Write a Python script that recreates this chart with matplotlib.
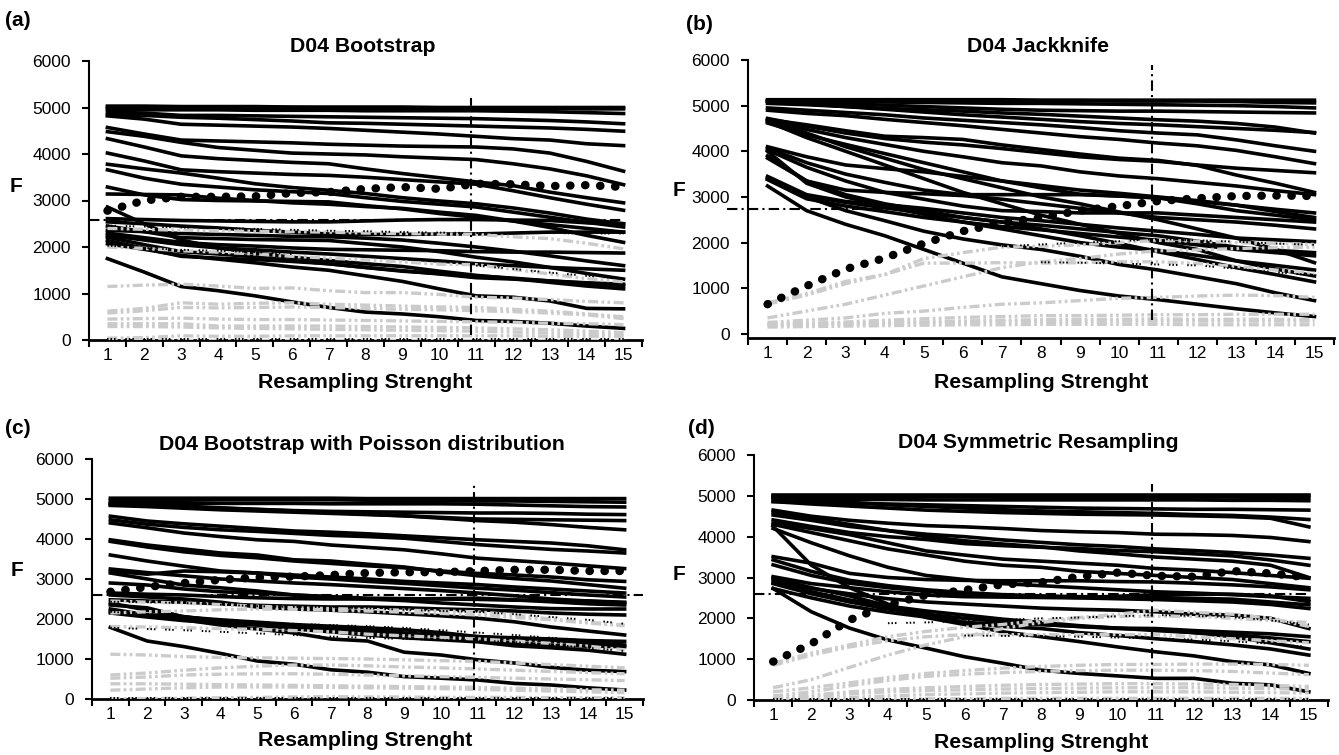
import numpy as np
import matplotlib
matplotlib.use('Agg')
import matplotlib.pyplot as plt

plt.rcParams['font.family'] = ['Liberation Sans', 'DejaVu Sans']

# 横轴：重采样强度 1..15
x = np.arange(1, 16)
x_labels = [str(i) for i in x]
y_ticks = [0, 1000, 2000, 3000, 4000, 5000, 6000]
nan = np.nan

titles = ['D04 Bootstrap', 'D04 Jackknife',
          'D04 Bootstrap with Poisson distribution', 'D04 Symmetric Resampling']
letters = ['(a)', '(b)', '(c)', '(d)']

# 数据单位：百 (F / 100)
# (a) Bootstrap
a_black = [
    [50.3, 50.3, 50.2, 50.2, 50.2, 50.1, 50.1, 50.1, 50.1, 50, 50, 50, 50, 50, 50],
    [50, 50, 50, 50, 50, 50, 49.9, 49.9, 49.9, 49.8, 49.8, 49.8, 49.8, 49.7, 49.7],
    [49.6, 49.5, 49.5, 49.5, 49.4, 49.4, 49.4, 49.3, 49.3, 49.3, 49.3, 49.2, 49.1, 48.9, 48.7],
    [49, 48.8, 48.3, 48.3, 48.2, 48.1, 48, 47.9, 47.8, 47.7, 47.6, 47.4, 47.2, 46.9, 46.5],
    [48.4, 48.3, 47.9, 47.7, 47.4, 47.1, 46.7, 46.6, 46.4, 46.2, 46, 45.8, 45.6, 45.3, 44.9],
    [48.2, 47.5, 46.4, 46.2, 46.0, 45.8, 45.5, 45.1, 44.7, 44.3, 43.8, 43.3, 43, 42.2, 41.8],
    [45.7, 44.3, 43, 42.8, 42.6, 42.4, 42.1, 41.9, 41.7, 41.6, 41.5, 41.1, 40.2, 38.4, 36.3],
    [44.8, 43.8, 42.5, 41.4, 40.8, 40.2, 40, 39.8, 39.4, 39.1, 38.8, 37.9, 36.8, 35.3, 33.4],
    [43.3, 41.5, 39.6, 39, 38.6, 38.2, 37.9, 36.8, 35.8, 34.9, 34, 33.2, 31.8, 30.6, 29.5],
    [40.2, 38.5, 36.6, 36.2, 35.9, 35.6, 35.4, 35, 34.5, 34, 33.5, 32.1, 30.6, 29.2, 27.9],
    [37.8, 36.8, 35.9, 34.8, 33.6, 32.8, 32.2, 31.5, 30.6, 29.9, 29.3, 28.4, 27.3, 26, 25],
    [36.6, 34.8, 33.5, 32.9, 32.3, 31.9, 31.5, 30.6, 29.8, 29.2, 28.6, 27.5, 26.4, 25.3, 24.3],
    [32.9, 31.2, 30.2, 30, 29.9, 29.8, 29.7, 28.9, 28.2, 27.2, 26.4, 25.6, 24.8, 24, 23.2],
    [31.4, 31.3, 31.2, 30.5, 30, 29.5, 29.2, 28.7, 28.3, 27.5, 26.8, 25.6, 24.2, 22.5, 21.0],
    [28.6, 25, 21.5, 19.8, 18.7, 17.8, 17.1, 16.4, 15.8, 14.8, 13.9, 13.2, 12.4, 11.6, 11.0],
    [26.1, 25.9, 25.7, 25.6, 25.5, 25.4, 25.4, 25.6, 25.8, 25.9, 25.9, 25.8, 25.7, 25.2, 25.0],
    [25.4, 25.0, 24.5, 24.1, 23.6, 23.2, 22.8, 22.7, 22.7, 22.8, 22.8, 23, 23.2, 23.2, 23.2],
    [23.6, 23.3, 22.9, 22.7, 22.5, 22.3, 22.2, 21.9, 21.5, 20.8, 20.0, 19.1, 18.1, 17.0, 16.0],
    [22.1, 20.5, 19.0, 18.5, 17.9, 17.1, 16.4, 15.6, 14.9, 14.2, 13.4, 13.1, 12.7, 12.3, 12.0],
    [21.4, 19.7, 18.0, 17.6, 17.3, 16.9, 16.4, 15.6, 14.8, 14.3, 13.8, 13.3, 12.7, 12.2, 11.7],
    [20.7, 19.5, 18.2, 17.4, 16.6, 15.7, 15.0, 13.8, 12.6, 11, 9.5, 9.2, 8.4, 6.8, 6.7],
    [17.5, 14.6, 11.5, 10.6, 9.5, 8.2, 7.0, 6.0, 5.6, 5.0, 4.2, 4.0, 3.6, 3.0, 2.5],
    [24.5, 23.3, 22.0, 21.8, 21.6, 21.5, 21.4, 20.7, 20, 19, 17.8, 16.8, 15.6, 14.3, 13.1],
    [23.0, 22.0, 21.0, 20.5, 20.2, 19.8, 19.5, 19.4, 19.3, 19.2, 19, 18.9, 18.9, 18.8, 18.7],
    [22.5, 21.5, 20.5, 19.8, 19.4, 18.9, 18.5, 18, 17.5, 17.0, 16.4, 16, 15.6, 15.3, 15.0],
]
a_gray = [
    [24, 23.8, 23.6, 23.5, 23.4, 23.3, 23.2, 23, 22.9, 22.8, 22.7, 22.2, 21.8, 20.8, 19.6],
    [20, 19.7, 19.2, 18.9, 18.5, 18, 17.6, 17.2, 16.8, 16.3, 16.2, 15.2, 14.2, 13.2, 12.5],
    [11.5, 11.8, 12, 11.6, 11.1, 11.2, 10.6, 10.2, 10.2, 9.8, 9.2, 9, 8.7, 8.3, 8],
    [6.2, 6.8, 8, 7.7, 7.9, 8, 7.7, 7.5, 7.3, 7.1, 7, 6.6, 6.2, 5.6, 5],
    [5.8, 6.3, 7, 6.9, 7, 7.1, 7, 6.8, 6.6, 6.5, 6.3, 6.1, 5.8, 5.4, 4.6],
    [3.5, 3.5, 3.5, 3, 3, 3, 3, 2.9, 2.8, 2.7, 2.6, 2.4, 2.2, 1.9, 1.6],
    [2.9, 2.9, 2.8, 2.6, 2.5, 2.4, 2.3, 2.2, 2.1, 2.0, 1.9, 1.7, 1.5, 1.3, 1.1],
    [0.4, 0.5, 0.9, 0.8, 0.8, 0.9, 0.9, 0.9, 0.9, 0.9, 0.9, 0.9, 0.8, 0.8, 0.8],
    [0.1, 0.1, 0.1, 0.1, 0.1, 0.1, 0.1, 0.1, 0.1, 0.1, 0.1, 0.1, 0.1, 0.1, 0.1],
    [4.5, 4.6, 4.7, 4.5, 4.4, 4.4, 4.3, 4.2, 4.1, 4, 3.9, 3.8, 3.6, 3.5, 3.3],
]
a_dashed = [
    [24.6, 24.4, 24.2, 24.1, 23.9, 23.7, 23.5, 23.4, 23.2, 23.1, 23.0, 23.0, 23.0, 22.9, 22.9],
    [20.3, 19.8, 19.4, 19.2, 18.9, 18.5, nan, nan, nan, nan, 16, 15.3, 14.5, 13.8, 13.2],
    [0.3, 0.3, 0.3, 0.3, 0.3, 0.3, 0.3, 0.3, 0.3, 0.3, 0.3, 0.3, 0.3, 0.3, 0.3],
]
a_dots = [27.8, 30, 30.8, 30.8, 30.9, 31.6, 31.8, 32.5, 32.9, 32.5, 33.6, 33.5, 33.1, 33.3, 32.9]

# (b) Jackknife
b_black = [
    [51.3, 51.3, 51.3, 51.3, 51.3, 51.3, 51.3, 51.2, 51.2, 51.2, 51.2, 51.2, 51.2, 51.2, 51.2],
    [51, 51, 51, 51, 51.1, 51.1, 51.1, 51.1, 51.1, 51, 51, 51, 50.9, 50.7, 50.6],
    [51.1, 51, 50.9, 50.8, 50.7, 50.6, 50.5, 50.5, 50.4, 50.3, 50.2, 50.1, 50, 49.8, 49.5],
    [51, 50.7, 50.4, 50.1, 49.8, 49.5, 49.2, 49, 48.9, 48.8, 48.8, 48.7, 48.6, 48.5, 48.4],
    [50.5, 50.2, 49.8, 49.4, 49.1, 48.8, 48.4, 48.1, 47.7, 47.3, 46.9, 46.6, 46.1, 45.3, 44.0],
    [49.5, 49, 48.5, 48.0, 47.3, 46.8, 46.3, 45.8, 45.2, 44.5, 44.0, 43.6, 42.5, 41.2, 40.0],
    [49, 48.3, 47.8, 47, 46.3, 45.6, 44.8, 44.0, 43.2, 42.6, 41.8, 41.2, 40.2, 38.8, 37.3],
    [47.2, 45.5, 44, 42.8, 42, 41.4, 40.6, 39.7, 38.8, 38.2, 37.8, 37, 36.3, 35.8, 35.3],
    [47, 45.8, 44.5, 43.3, 43, 42.6, 41.4, 40.4, 39.4, 38.5, 38, 36.9, 34.8, 33, 31.0],
    [46.7, 44.8, 43, 41.5, 40, 38.8, 37.5, 36.8, 35.5, 34.6, 34, 33.2, 32.4, 31.4, 30.5],
    [46.2, 43.6, 41.5, 39.5, 37.5, 35.5, 33.5, 32, 30.6, 30.2, 29.8, 29, 28.2, 27.3, 26.5],
    [41, 38.8, 37, 36.2, 35.5, 34.5, 33.5, 32.5, 31.5, 30.8, 30, 29.2, 28.2, 26.8, 25.5],
    [40.7, 37.5, 35, 33.2, 31.5, 30.5, 30.5, 30.5, 30.5, 30.2, 29.8, 28.5, 27, 26, 25],
    [40.3, 36.5, 33.5, 31, 29.5, 28, 27, 26.8, 26.5, 26.5, 26.5, 26, 25.5, 25, 24.5],
    [38.5, 33.5, 31.5, 31, 30.7, 30.3, 29.5, 28.5, 27.5, 26.5, 25.5, 25, 24.5, 23.8, 23],
    [34.5, 30.5, 29, 28.3, 27.5, 26.5, 25.5, 24.8, 24, 23.2, 22.5, 21.8, 21, 20.6, 20.2],
    [34.2, 30.2, 28.8, 27.6, 26.5, 25.5, 24.5, 23.8, 23, 22.2, 21.5, 20.3, 19, 18.3, 17.8],
    [33.8, 29.6, 28, 26.8, 25.5, 24.5, 23.5, 22.8, 22, 21.2, 20.5, 19.5, 18.5, 17.8, 17.1],
    [32.4, 27, 24, 21.5, 18.5, 15.5, 12.5, 11, 9.5, 8.3, 7.5, 6.5, 5.5, 4.6, 3.8],
    [34, 30, 27, 24.8, 22.5, 20.8, 19.5, 18.5, 17, 15.2, 14, 12.5, 11, 9, 7.3],
    [40, 33, 30, 28, 26.2, 24.5, 23, 21.5, 20, 19, 18.3, 17.2, 16, 15, 14],
    [46.5, 43, 40, 37, 34, 31, 28.5, 26, 24, 22, 20, 18.5, 16, 14.2, 12.7],
    [39, 33.5, 30.5, 28.5, 27, 25.5, 24.5, 23, 21.5, 19.8, 18, 16.3, 14.5, 13, 11.4],
    [47, 44, 41, 38.5, 36, 34, 32, 30, 28.5, 26.7, 25, 23, 21, 18.5, 15.6],
    [50.9, 50.4, 49.8, 49.2, 48.6, 48, 47.5, 47, 46.5, 46.1, 45.8, 45.4, 45, 44.6, 44.1],
]
b_gray = [
    [6.5, 8.5, 11, 13, 16.5, 17.8, 19, 19.2, 19.5, 20, 20.5, 20.3, 20, 19.8, 19.6],
    [6.8, 8.8, 11.5, 13.0, 15.5, 15.5, 15.6, 15.5, 15.6, 15.8, 15.8, 15.4, 14.8, 14, 13.3],
    [3.5, 5, 6.5, 8.5, 10.5, 12.5, 14.5, 15.8, 16.5, 17.5, 18.2, 18.4, 18.7, 18.9, 19],
    [2.5, 3, 3.5, 4.5, 5, 5.8, 6.5, 6.8, 7.3, 7.8, 8, 8.3, 8.5, 8.4, 8],
    [2, 2.3, 2.6, 3, 3.3, 3.6, 3.8, 4, 4, 4.1, 4.2, 4.2, 4.3, 4.3, 4.3],
    [1.8, 2, 2.2, 2.4, 2.6, 2.8, 3, 3.1, 3.2, 3.2, 3.3, 3.2, 3.2, 3.2, 3.1],
    [1.5, 1.6, 1.7, 1.8, 1.9, 2, 2, 2.1, 2.1, 2.1, 2.1, 2, 2, 2, 2],
    [2.2, 2.2, 2.3, 2.4, 2.5, 2.6, 2.7, 2.7, 2.7, 2.8, 2.8, 2.8, 2.8, 2.8, 2.8],
]
b_dashed = [
    [nan, nan, nan, nan, nan, nan, 19.2, 19.6, 20, 20.3, 20.8, 20.5, 20.2, 19.8, 19.5],
    [nan, nan, nan, nan, nan, nan, nan, 15.7, 15.6, 15.4, 15.2, 15, 14.3, 13.5, 12.8],
]
b_dots = [6.5, 10.5, 14.2, 16.6, 19.8, 22.5, 24.3, 25.5, 27, 28, 29.1, 29.7, 30.2, 30.3, 30.2]

# (c) Bootstrap with Poisson distribution
c_black = [
    [50.2, 50.2, 50.2, 50.2, 50.2, 50.2, 50.2, 50.1, 50.1, 50.1, 50.1, 50.1, 50.1, 50.1, 50.1],
    [49.6, 49.6, 49.7, 49.8, 49.8, 49.8, 49.8, 49.7, 49.7, 49.6, 49.5, 49.5, 49.4, 49.3, 49.2],
    [49, 49, 48.9, 48.9, 48.9, 48.9, 48.8, 48.8, 48.8, 48.8, 48.7, 48.5, 48.3, 48.1, 48.0],
    [48.6, 48.3, 48, 47.7, 47.4, 47.1, 46.9, 46.8, 46.7, 46.6, 46.5, 46.5, 46.4, 46.2, 46.1],
    [48.4, 48.1, 47.7, 47.3, 47, 46.7, 46.4, 46.1, 45.8, 45.2, 44.6, 44.2, 43.6, 42.9, 42.3],
    [48.8, 48.5, 48.2, 47.8, 47.4, 47, 46.6, 46.2, 45.8, 45.4, 45, 44.9, 44.8, 44.7, 44.6],
    [45.7, 44.5, 43.8, 43.2, 42.6, 42, 41.7, 41.3, 40.8, 40.3, 39.8, 39.4, 39, 38.3, 37.3],
    [44.8, 43.7, 42.9, 42.3, 41.9, 41.4, 40.9, 40.6, 40.2, 39.4, 38.6, 38, 37.4, 37, 36.5],
    [44, 42.8, 41.5, 40.6, 39.8, 39.4, 38.5, 37.9, 37.3, 36.3, 35.2, 34.6, 34, 33.3, 32.6],
    [39.8, 38.5, 37.5, 36.5, 36, 34.8, 34.5, 33.7, 33, 31.8, 30.8, 30.1, 29.5, 28.6, 27.7],
    [39.4, 38, 36.8, 35.9, 35.3, 34.5, 33.9, 33.3, 32.8, 32, 31.4, 31, 30.5, 29.8, 29.4],
    [36, 34.5, 33.2, 32, 31.5, 30.5, 30, 29.4, 28.9, 28.3, 27.7, 27.2, 26.6, 26, 25.5],
    [32.5, 31.6, 30.8, 30, 29.5, 29, 28.6, 28.1, 27.6, 27.1, 26.5, 25.8, 25, 24.5, 24],
    [32, 31.2, 32, 31.8, 31.5, 31, 30.5, 30, 29.4, 29, 28.6, 28, 27.5, 27, 26.5],
    [26.5, 26.2, 26, 25.6, 25.3, 25.1, 25, 25, 25, 25.1, 25.2, 24.8, 24.3, 23.8, 23.5],
    [24.8, 24.5, 24.2, 23.8, 23.4, 23.2, 23, 23, 22.8, 22.5, 22.3, 22, 21.5, 21.2, 21.0],
    [23.5, 22.8, 20.5, 19.5, 19, 18.5, 17.6, 16.8, 16.2, 15.8, 15.6, 15.3, 15, 14.6, 14.4],
    [24, 22.2, 20.6, 19.5, 18.5, 18, 17.5, 17.5, 16.5, 15.8, 14.8, 14, 13.5, 13.2, 13.1],
    [21.9, 21.1, 20.5, 19.8, 19.2, 18.6, 18.2, 17.8, 17.3, 16.6, 15.6, 15, 14.5, 14, 13.5],
    [17.9, 14.5, 13.1, 11.4, 9.5, 8.7, 7.3, 6.7, 5.6, 5.2, 4.75, 3.9, 3.5, 2.8, 2.25],
    [22.5, 21, 19.8, 18.5, 17.5, 16.5, 15, 14.5, 11.7, 11, 9.8, 9, 7.9, 7.2, 6.85],
    [21.5, 20.5, 19.6, 19, 18.5, 17.5, 16.8, 16, 15.3, 14.8, 14.3, 13.3, 12.8, 12.2, 11.2],
    [26, 25.5, 25, 24.2, 23, 22.5, 22.2, 21.8, 21.3, 20.8, 20.2, 19.3, 18, 17, 16],
    [31.5, 30, 28.5, 27.8, 27, 26, 25.5, 25, 24.6, 24, 23.5, 23, 22.6, 22.5, 22.5],
    [29, 28.5, 27.5, 26.8, 26.5, 26, 25.6, 25.2, 25.1, 25, 24.9, 24.7, 24.6, 24.5, 24.2],
]
c_gray = [
    [24.5, 24.2, 24, 23.6, 23.2, 22.8, 22.6, 22.4, 22.2, 22, 21.8, 21, 20, 19.2, 18.5],
    [21.5, 21.8, 22, 22.3, 22.5, 22.4, 22.2, 22, 21.7, 21.4, 21, 20.4, 19.8, 19, 18.3],
    [18.1, 18, 17.8, 17.6, 17.4, 17.1, 16.8, 16.2, 15.8, 15.4, 15, 14.5, 13.9, 13.2, 12.3],
    [11.2, 11, 10.6, 10.4, 10.3, 10.2, 10.1, 10, 9.8, 9.6, 9.4, 9, 8.6, 8.2, 7.8],
    [6, 6.5, 7.2, 7.8, 8.2, 8.5, 8.5, 8.3, 8, 7.8, 7.5, 7.2, 6.9, 6.6, 6.3],
    [5.2, 5.5, 6, 6.2, 6.3, 6.3, 6.2, 6, 5.8, 5.6, 5.4, 5.2, 5, 4.8, 4.6],
    [3.8, 3.8, 3.7, 3.6, 3.5, 3.4, 3.3, 3.2, 3.1, 3, 2.9, 2.7, 2.5, 2.3, 2.2],
    [2.2, 2.5, 2.8, 3, 3, 3, 2.9, 2.8, 2.7, 2.6, 2.4, 2.2, 2, 1.8, 1.6],
    [0, 0.1, 0.2, 0.3, 0.4, 0.5, 0.6, 0.5, 0.5, 0.4, 0.4, 0.4, 0.3, 0.3, 0.3],
]
c_dashed = [
    [24.3, 24.2, 24, 23.6, 23.2, 23, 23, 22.7, 22.3, 22, 21.8, 21.2, 20.5, 19.8, 18.8],
    [21.8, 21.2, 20.5, 19.8, 19.2, 18.8, 18.5, 18.2, 17.8, 17.2, 16.6, 16, 15.3, 14.7, 14],
    [17.8, 17.5, 17.2, 16.8, 16.4, 16, 15.6, 15.3, 15, 14.8, 14.6, 14.2, 13.6, 12.8, 12],
    [0.2, 0.2, 0.2, 0.2, 0.2, 0.2, 0.2, 0.2, 0.2, 0.2, 0.2, 0.2, 0.2, 0.2, 0.2],
]
c_dots = [26.8, 28, 29, 29.8, 30.4, 30.6, 31, 31.5, 31.7, 31.7, 32, 32.3, 32.3, 32, 32]

# (d) Symmetric Resampling
d_black = [
    [50.2, 50.2, 50.2, 50.2, 50.2, 50.2, 50.2, 50.2, 50.2, 50.2, 50.2, 50.2, 50.2, 50.2, 50.2],
    [49.8, 49.8, 49.8, 49.8, 49.8, 49.8, 49.7, 49.7, 49.7, 49.7, 49.7, 49.7, 49.7, 49.6, 49.6],
    [49.4, 49.2, 49.1, 49.1, 49, 49, 49, 49, 49, 49, 49, 49, 48.9, 48.9, 48.8],
    [48.6, 48.4, 48.2, 48, 47.8, 47.6, 47.4, 47.2, 47, 46.9, 46.8, 46.7, 46.7, 46.6, 46.5],
    [48.6, 48, 47.5, 47, 46.5, 46.2, 45.9, 45.7, 45.5, 45.4, 45.3, 45.1, 44.9, 44.5, 42.4],
    [46.5, 45, 44, 43.3, 42.7, 42.4, 42, 41.5, 41.2, 41, 40.6, 40.5, 40.3, 39.8, 38.8],
    [45.3, 44, 42.5, 41.5, 40.6, 40, 39.2, 38.6, 38, 37.6, 37, 36.6, 36.1, 35.5, 34.7],
    [44.1, 42.5, 41, 40, 39.3, 38.3, 37.8, 37.4, 37.1, 36.6, 36.3, 35.8, 35.3, 34.3, 33],
    [43.3, 42, 40.5, 38.5, 36.5, 35.5, 34.5, 34, 33.5, 33, 32.2, 31.8, 31.2, 30.5, 29.8],
    [42, 38.5, 35.3, 32.5, 30.5, 29.5, 28.5, 28, 27.5, 27, 26.5, 26.2, 25.8, 25.3, 24.9],
    [35.1, 33.5, 31, 30, 29.5, 29.3, 29.2, 29.2, 29.2, 29, 28.9, 28.6, 28.2, 27.7, 27],
    [34.3, 31.5, 29.3, 28, 27, 26.3, 25.8, 25.5, 25.3, 25.2, 25.1, 24.9, 24.7, 24, 23.3],
    [33.1, 30.5, 28.6, 27.5, 26.6, 26, 25.5, 25.3, 25.1, 25.4, 25.8, 25.9, 25.9, 25.5, 24.1],
    [30.2, 28.5, 27.5, 26.5, 25.7, 25.3, 25.2, 25.1, 25, 24.8, 24.6, 24.3, 24, 23.4, 22.4],
    [29.4, 27.3, 26, 24.8, 24, 23.5, 23, 22.5, 22.2, 22, 21.6, 21, 20.8, 20, 17.5],
    [27.3, 25, 23, 21.5, 20.3, 19, 18.5, 18.5, 18, 17.6, 17.5, 17, 16.6, 16.2, 15.5],
    [29.9, 27.5, 25.5, 23, 21.8, 20.8, 19.8, 19, 18.2, 17.6, 17, 16.5, 16, 15.2, 14.3],
    [28.5, 26, 24, 22.3, 21, 20, 19.2, 18.5, 18, 17.5, 17.3, 16.5, 15.5, 14, 12.5],
    [27.3, 21.6, 17.6, 14.7, 12.7, 10.6, 9, 7.3, 6.5, 5.9, 5.3, 5.3, 4.1, 3.7, 2],
    [42.5, 33, 27.5, 23.5, 20.2, 18.5, 16.7, 15.5, 14.3, 13, 11.8, 10.8, 9.4, 8.6, 6.5],
    [28.8, 26.5, 24.5, 23, 21, 19, 18, 17.5, 16.5, 15.8, 15, 14.3, 13.5, 12.5, 11],
    [46, 44.5, 43, 41.5, 40, 39, 38.2, 37.5, 36.5, 35.8, 35, 34.5, 34, 33, 30],
    [43, 41, 39, 37, 35.5, 34, 33, 32.5, 31.5, 31, 30.5, 30, 29.5, 28.5, 27.5],
    [49.5, 49, 48.4, 47.8, 47.4, 47, 46.6, 46.3, 46.1, 45.9, 45.7, 45.4, 45.2, 44.8, 44.2],
]
d_gray = [
    [9, 11.5, 13.5, 15.5, 16.8, 17.8, 18.5, 19.5, 20.2, 21, 22, 21.5, 21, 20, 18],
    [8.5, 11, 13, 14.5, 15.5, 16, 16, 16, 16, 16, 16, 15.5, 15, 14.5, 14],
    [3, 5, 8, 11, 13.5, 15.5, 17.5, 19, 20, 20.5, 20.5, 20.5, 20, 19.5, 19],
    [2, 3, 4.2, 5.5, 6.5, 7.2, 7.8, 8.2, 8.5, 8.7, 8.7, 8.8, 8.8, 8.7, 8.5],
    [1, 2, 3.5, 4.8, 5.8, 6.3, 6.7, 7, 7.2, 7.3, 7.3, 7.2, 7, 6.6, 6.2],
    [0.5, 1.2, 2, 2.6, 3, 3.3, 3.6, 3.8, 3.9, 4, 4, 3.9, 3.8, 3.6, 3.3],
    [0.2, 0.8, 1.5, 2, 2.3, 2.5, 2.7, 2.8, 2.9, 3, 3, 3, 2.9, 2.8, 2.6],
    [0, 0.3, 0.6, 1, 1.3, 1.5, 1.7, 1.8, 1.9, 2, 2, 2, 1.9, 1.8, 1.7],
    [0, 0, 0.1, 0.2, 0.3, 0.3, 0.4, 0.4, 0.4, 0.4, 0.4, 0.4, 0.4, 0.4, 0.4],
]
d_dashed = [
    [nan, nan, nan, 18.8, 19, 19.3, 19.6, 20, 20.2, 20.5, 20.8, 20.6, 20.3, 19.5, 18.5],
    [nan, nan, nan, nan, nan, 15.8, 15.7, 15.6, 15.5, 15.3, 15.1, 14.8, 14.4, 13.8, 13],
    [0.2, 0.2, 0.2, 0.2, 0.2, 0.2, 0.2, 0.2, 0.2, 0.2, 0.2, 0.2, 0.2, 0.2, 0.2],
]
d_dots = [9.4, 13.8, 19.6, 23.3, 25.7, 26.9, 28.3, 28.8, 30.2, 31.2, 30.4, 30.2, 31.6, 31, 30]

# 参考线：水平 (F, x起, x止)，竖直 (x, F下, F上)
h_refs = [(2580, 0.5, 15.0), (2740, -0.03, 4.6), (2600, 0.5, 15.5), (2590, 0.5, 15.0)]
v_refs = [(10.85, 100, 5200), (10.85, 300, 5900), (10.9, 230, 5340), (10.9, 0, 5280)]

W, H = 1339, 755
fig = plt.figure(figsize=(W / 100, H / 100), dpi=100)


def rect(l, r, t, b):
    return [l / W, 1 - b / H, (r - l) / W, (b - t) / H]


# 像素位置：轴框、标题、字母、F、横轴标题
boxes = [rect(89, 642, 61, 340), rect(748, 1334, 60, 338),
         rect(92, 643, 459, 699), rect(754, 1328, 455, 700)]
ymins = [0, -90, 0, 0]
title_pos = [(363, 47), (1038, 47), (362, 445), (1038, 443)]
letter_pos = [(5, 20), (686, 25), (5, 428), (688, 428)]
f_pos = [(16, 187), (679, 190), (17, 571), (679, 575)]
xlab_pos = [(365, 382), (1041, 382), (365, 741), (1041, 743)]

series = [(a_black, a_gray, a_dashed, a_dots),
          (b_black, b_gray, b_dashed, b_dots),
          (c_black, c_gray, c_dashed, c_dots),
          (d_black, d_gray, d_dashed, d_dots)]

for i in range(4):
    ax = fig.add_axes(boxes[i])
    black, gray, dashed, dots = series[i]

    for s in black:
        ax.plot(x, np.array(s) * 100, color='black', lw=2.6, zorder=2)
    for s in gray:
        ax.plot(x, np.array(s) * 100, color='#cbcbcb', lw=2.4,
                dashes=[3, 1, 0.8, 1, 0.8, 1], zorder=3)
    for s in dashed:
        ax.plot(x, np.array(s, dtype=float) * 100, color='black', lw=1.4,
                dashes=[0.8, 1, 0.8, 1, 0.8, 5], zorder=4)
    # 大圆点虚线
    ax.plot(x, np.array(dots) * 100, color='black', lw=6.0,
            dashes=[0.05, 1.75], dash_capstyle='round', zorder=5)

    hv, hx0, hx1 = h_refs[i]
    ax.plot([hx0, hx1], [hv, hv], color='black', lw=1.5,
            dashes=[5, 2, 1, 2], clip_on=False, zorder=6)
    vx, vy0, vy1 = v_refs[i]
    ax.plot([vx, vx], [vy0, vy1], color='black', lw=1.5,
            dashes=[5, 2, 1, 2], zorder=6)

    ax.set_xlim(0.5, 15.5)
    ax.set_ylim(ymins[i], 6000)
    for sp in ['top', 'right']:
        ax.spines[sp].set_visible(False)
    ax.spines['left'].set_linewidth(1.5)
    ax.spines['bottom'].set_linewidth(2.0)

    ax.set_xticks(np.arange(0.5, 16, 1))
    ax.set_xticks(x, minor=True)
    ax.set_xticklabels(x_labels, minor=True)
    ax.tick_params(axis='x', which='major', direction='out', length=5,
                   width=1.5, labelbottom=False)
    ax.tick_params(axis='x', which='minor', length=0, pad=6, labelsize=12.5)
    ax.set_yticks(y_ticks)
    ax.set_yticklabels([str(v) for v in y_ticks])
    ax.tick_params(axis='y', direction='out', length=5, width=1.5,
                   pad=8, labelsize=12.5)

    tx, ty = title_pos[i]
    fig.text(tx / W, 1 - ty / H, titles[i], ha='center', va='center',
             fontsize=15.3, fontweight='bold')
    lx, ly = letter_pos[i]
    fig.text(lx / W, 1 - ly / H, letters[i], ha='left', va='center',
             fontsize=15, fontweight='bold')
    fx, fy = f_pos[i]
    fig.text(fx / W, 1 - fy / H, 'F', ha='center', va='center',
             fontsize=15, fontweight='bold')
    xx, xy = xlab_pos[i]
    fig.text(xx / W, 1 - xy / H, 'Resampling Strenght', ha='center',
             va='center', fontsize=15.3, fontweight='bold')

fig.savefig('out.png', dpi=100)
